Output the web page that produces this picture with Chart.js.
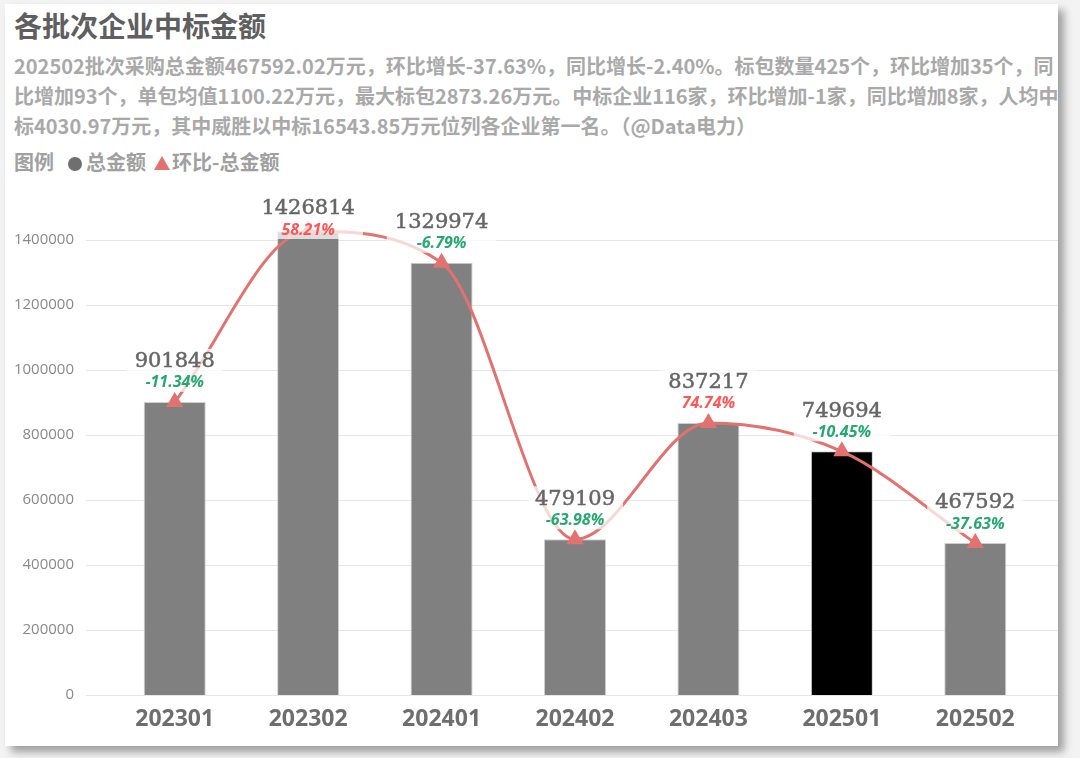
<!DOCTYPE html>
<html>
<head>
<meta charset="utf-8">
<script src="https://cdn.jsdelivr.net/npm/chart.js@4"></script>
<style>
  body { margin: 0; background: #f3f3f3; width: 1080px; height: 758px; overflow: hidden; font-family: "Noto Sans CJK SC", "Noto Sans", sans-serif; }
  #card { position: absolute; left: 5px; top: 4px; width: 1053px; height: 742px; background: #fff; box-shadow: 6px 6px 8px rgba(0,0,0,0.35); }
  #title { position: absolute; left: 9px; top: 3px; font-size: 28px; font-weight: bold; color: #5f5f5f; line-height: 36px; }
  #sub { position: absolute; left: 9px; top: 47px; font-size: 20px; font-weight: bold; color: #a9a9a9; line-height: 30px; white-space: nowrap; }
  #legend { position: absolute; left: 9px; top: 144px; font-size: 20px; font-weight: bold; color: #a0a0a0; line-height: 28px; white-space: nowrap; }
  .dot { display: inline-block; width: 14px; height: 14px; border-radius: 50%; background: #6f6f6f; margin: 0 4px 0 14px; vertical-align: -1px; }
  .tri { display: inline-block; width: 0; height: 0; border-left: 8px solid transparent; border-right: 8px solid transparent; border-bottom: 14px solid #e2726f; margin: 0 2px 0 8px; vertical-align: 0px; }
  #wrap { position: absolute; left: 0; top: 176px; width: 1053px; height: 566px; }
</style>
</head>
<body>
<div id="card">
  <div id="title">各批次企业中标金额</div>
  <div id="sub">202502批次采购总金额467592.02万元，环比增长-37.63%，同比增长-2.40%。标包数量425个，环比增加35个，同<br>比增加93个，单包均值1100.22万元，最大标包2873.26万元。中标企业116家，环比增加-1家，同比增加8家，人均中<br>标4030.97万元，其中威胜以中标16543.85万元位列各企业第一名。（@Data电力）</div>
  <div id="legend">图例<span class="dot"></span>总金额<span class="tri"></span>环比-总金额</div>
  <div id="wrap"><canvas id="chart"></canvas></div>
</div>
<script>
const categories = ['202301', '202302', '202401', '202402', '202403', '202501', '202502'];
const totals = [901848, 1426814, 1329974, 479109, 837217, 749694, 467592];
const ringPct = [-11.34, 58.21, -6.79, -63.98, 74.74, -10.45, -37.63];
const yTicks = [0, 200000, 400000, 600000, 800000, 1000000, 1200000, 1400000];
const barColors = ['#808080', '#808080', '#808080', '#808080', '#808080', '#000000', '#808080'];

const lineColor = 'rgb(226,114,111)';

// light gridlines that run a bit wider than the plot, like the original
const gridPlugin = {
    id: 'wideGrid',
    beforeDatasetsDraw(chart) {
        const ctx = chart.ctx;
        const y = chart.scales.y;
        ctx.save();
        ctx.strokeStyle = '#e6e6e6';
        ctx.lineWidth = 1;
        yTicks.forEach(v => {
            const py = Math.round(y.getPixelForValue(v)) + 0.5;
            ctx.beginPath();
            ctx.moveTo(81, py);
            ctx.lineTo(chart.width, py);
            ctx.stroke();
        });
        ctx.restore();
    }
};

// value + ring-ratio labels with a semi transparent white box behind
const labelPlugin = {
    id: 'valueLabels',
    afterDatasetsDraw(chart) {
        const ctx = chart.ctx;
        const xs = chart.scales.x, ys = chart.scales.y;
        ctx.save();
        categories.forEach((c, i) => {
            const cx = xs.getPixelForValue(i);
            const top = ys.getPixelForValue(totals[i]);
            const vy = Math.max(top - 40, 29);
            const py = vy + 21;
            const vText = String(totals[i]);
            const pText = ringPct[i].toFixed(2) + '%';
            ctx.font = '21px "DejaVu Serif"';
            const w1 = ctx.measureText(vText).width;
            ctx.font = 'italic bold 16px "Open Sans"';
            const w2 = ctx.measureText(pText).width;
            const bw = Math.max(w1, w2) + 16;
            ctx.fillStyle = 'rgba(255,255,255,0.72)';
            ctx.fillRect(cx - bw / 2, vy - 13, bw, py + 9 - (vy - 13));
            ctx.textAlign = 'center';
            ctx.textBaseline = 'middle';
            ctx.font = '21px "DejaVu Serif"';
            ctx.fillStyle = '#666666';
            ctx.strokeStyle = '#666666';
            ctx.lineWidth = 0.5;
            ctx.fillText(vText, cx, vy);
            ctx.strokeText(vText, cx, vy);
            ctx.font = 'italic bold 16px "Open Sans"';
            ctx.fillStyle = ringPct[i] < 0 ? '#25a970' : '#ff5757';
            ctx.fillText(pText, cx, py);
        });
        ctx.restore();
    }
};

const ctx = document.getElementById('chart').getContext('2d');
new Chart(ctx, {
    type: 'bar',
    data: {
        labels: categories,
        datasets: [{
            type: 'line',
            label: '环比-总金额',
            data: totals,
            borderColor: lineColor,
            backgroundColor: lineColor,
            borderWidth: 3,
            cubicInterpolationMode: 'monotone',
            pointStyle: 'triangle',
            pointRadius: 7,
            pointBackgroundColor: lineColor,
            pointBorderColor: lineColor,
            clip: false,
            order: 0
        }, {
            label: '总金额',
            data: totals,
            backgroundColor: barColors,
            borderColor: '#cfcfcf',
            borderWidth: 1,
            barPercentage: 0.93,
            categoryPercentage: 0.5,
            order: 1
        }]
    },
    options: {
        responsive: true,
        maintainAspectRatio: false,
        animation: false,
        layout: { padding: { left: 0, right: 16, top: 27.5, bottom: 0 } },
        plugins: {
            legend: { display: false },
            tooltip: { enabled: false }
        },
        scales: {
            x: {
                grid: { display: false },
                border: { display: false },
                ticks: { color: '#6e6e6e', font: { family: 'Noto Sans', size: 23, weight: 'bold' }, padding: 3 },
                afterFit(scale) { scale.height = 51; }
            },
            y: {
                min: 0,
                max: 1500000,
                grid: { display: false },
                border: { display: false },
                ticks: {
                    color: '#8a8a8a',
                    font: { family: 'Open Sans', size: 15 },
                    padding: 26,
                    callback: v => String(v)
                },
                afterBuildTicks(scale) { scale.ticks = yTicks.map(v => ({ value: v })); },
                afterFit(scale) {
                    scale.width = 103;
                    scale.paddingTop = 0;
                    scale.paddingBottom = 0;
                }
            }
        }
    },
    plugins: [gridPlugin, labelPlugin]
});
</script>
</body>
</html>
